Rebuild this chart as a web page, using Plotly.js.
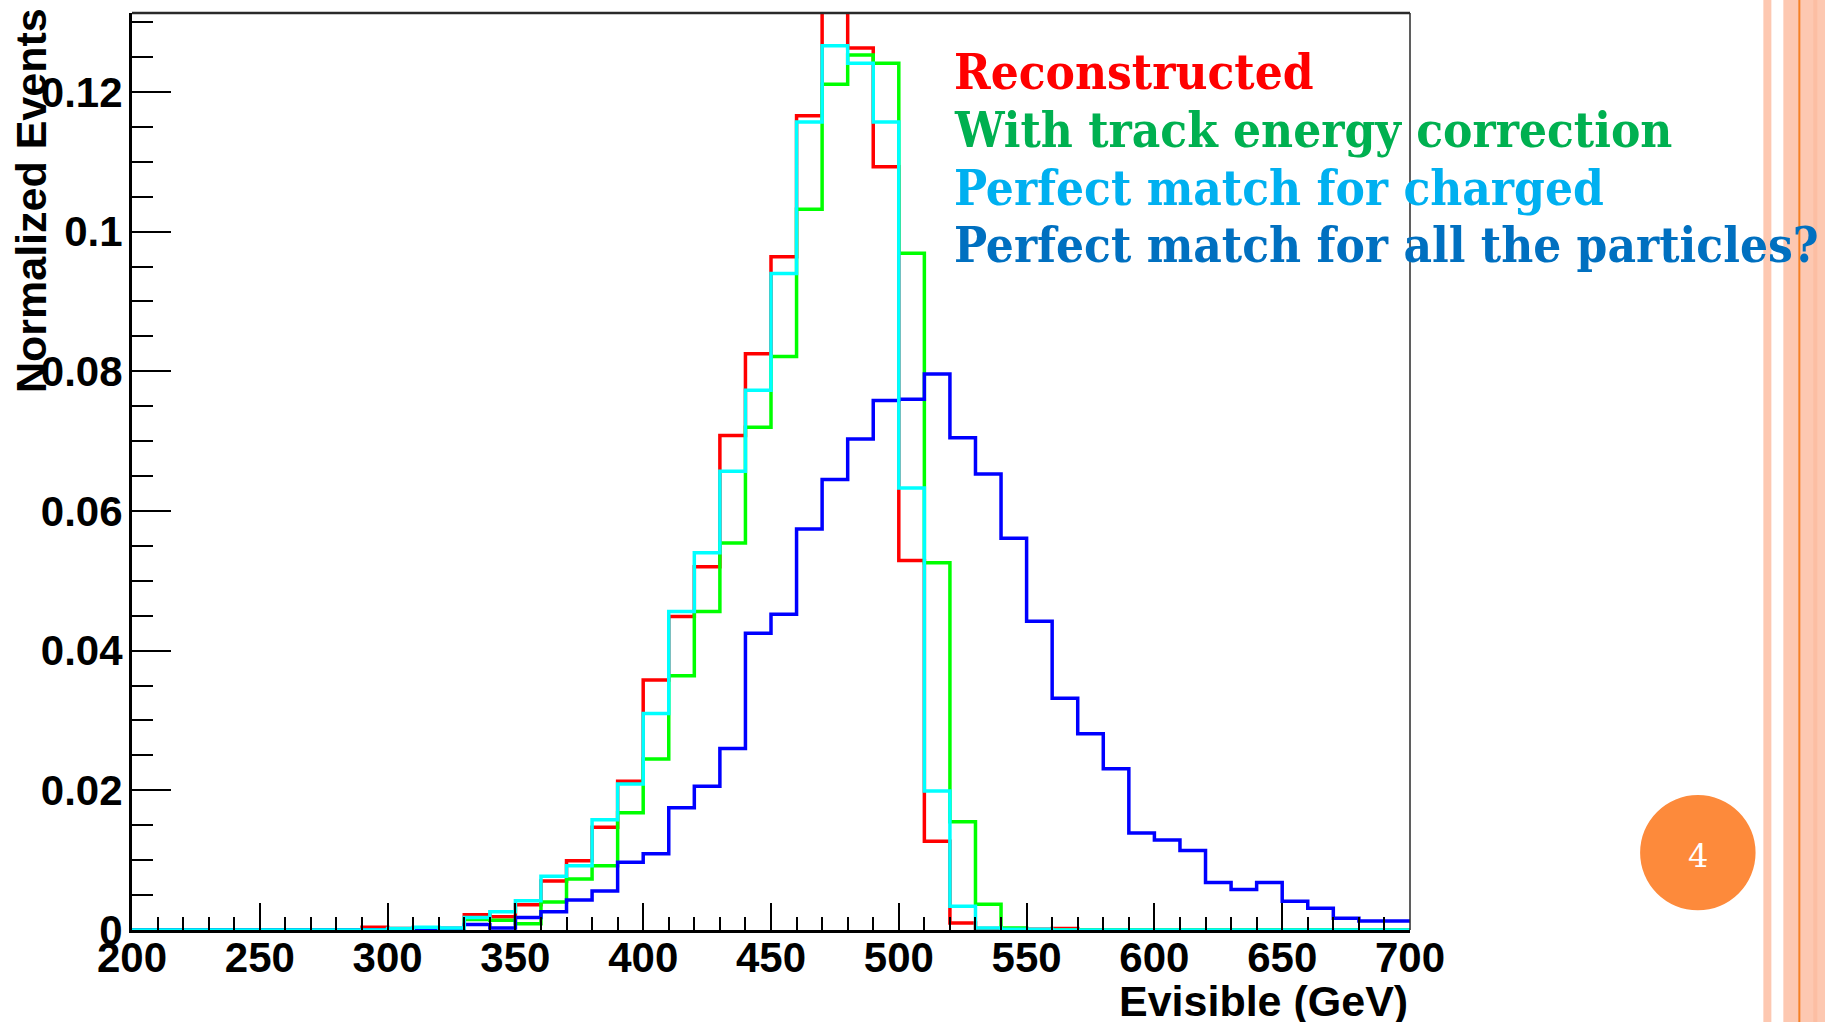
<!DOCTYPE html>
<html><head><meta charset="utf-8">
<script src="https://cdn.plot.ly/plotly-3.0.1.min.js"></script>
<style>html,body{margin:0;padding:0;background:#fff;overflow:hidden}#chart{width:1825px;height:1022px}</style>
</head><body><div id="chart"></div>
<script>
// ---- data: normalized events per 10 GeV bin, 200..700 GeV ----
const binStart = 200;
const binWidth = 10;
const reconstructed = [0,0,0,0,0,0,0,0,0,0.0004,
  0.0002,0.0002,0.0002,0.0022,0.0019,0.0036,0.0070,0.0099,0.0147,0.0213,
  0.0358,0.0449,0.0520,0.0708,0.0825,0.0964,0.1166,0.1360,0.1263,0.1093,
  0.0529,0.0127,0.0010,0.0002,0.0001,0.0001,0.0002,0,0,0,
  0,0,0,0,0,0,0,0,0,0];
const trackCorrected = [0,0,0,0,0,0,0,0,0,0,
  0,0.0001,0,0.0015,0.0014,0.0009,0.0040,0.0073,0.0092,0.0168,
  0.0245,0.0364,0.0456,0.0554,0.0720,0.0821,0.1032,0.1211,0.1253,0.1241,
  0.0969,0.0526,0.0155,0.0037,0.0003,0,0,0,0,0,
  0,0,0,0,0,0,0,0,0,0];
const perfectCharged = [0,0,0,0,0,0,0,0,0,0,
  0.0002,0.0004,0.0003,0.0018,0.0026,0.0042,0.0077,0.0092,0.0158,0.0209,
  0.0310,0.0456,0.0540,0.0657,0.0773,0.0940,0.1157,0.1266,0.1241,0.1157,
  0.0633,0.0199,0.0034,0.0003,0.0001,0.0001,0,0,0,0,
  0,0,0,0,0,0,0,0,0,0];
const perfectAll = [0,0,0,0,0,0,0,0,0,0,
  0,0.0001,0.0002,0.0008,0.0003,0.0018,0.0026,0.0043,0.0056,0.0097,
  0.0109,0.0175,0.0206,0.0260,0.0425,0.0452,0.0574,0.0645,0.0703,0.0758,
  0.0760,0.0796,0.0705,0.0653,0.0561,0.0442,0.0332,0.0281,0.0231,0.0139,
  0.0129,0.0114,0.0068,0.0058,0.0068,0.0041,0.0031,0.0017,0.0013,0.0013];
const seriesLabels = ['Reconstructed','With track energy correction','Perfect match for charged','Perfect match for all the particles?'];
const xTitle = 'Evisible (GeV)';
const yTitle = 'Normalized Events';
const slideNumber = '4';

// ---- geometry (pixels) ----
const W = 1825, H = 1022, L = 132, R = 1410.5, T = 13, B = 930;
const px = x => (x - L) / (R - L);
const py = y => (B - y) / (B - T);

function stepTrace(vals, color, name) {
  const xs = [], ys = [];
  for (let i = 0; i < vals.length; i++) { xs.push(binStart + i * binWidth); ys.push(vals[i]); }
  xs.push(binStart + vals.length * binWidth); ys.push(vals[vals.length - 1]);
  return {x: xs, y: ys, type: 'scatter', mode: 'lines', name: name,
          line: {shape: 'hv', color: color, width: 3.5}, showlegend: false, hoverinfo: 'skip'};
}

const traces = [
  stepTrace(reconstructed, '#FF0000', seriesLabels[0]),
  stepTrace(trackCorrected, '#00FF00', seriesLabels[1]),
  stepTrace(perfectAll, '#0000FF', seriesLabels[3]),
  stepTrace(perfectCharged, '#00FFFF', seriesLabels[2])
];

const tickFont = {family: 'Liberation Sans, Arial, sans-serif', size: 42, color: '#000', weight: 'bold'};
const legendColors = ['#FF0000', '#00B050', '#00B0F0', '#0070C0'];
const legendY = [72, 130, 188, 245];
const legendFont = 'DejaVu Serif Condensed, DejaVu Serif, serif';

const annotations = seriesLabels.map((t, i) => ({
  text: t, xref: 'paper', yref: 'paper', x: px(952), y: py(legendY[i]),
  xanchor: 'left', yanchor: 'middle', showarrow: false,
  font: {family: legendFont, size: 49, color: legendColors[i], weight: 'bold'}
}));
annotations.push({text: yTitle, textangle: -90, xref: 'paper', yref: 'paper', x: px(31), y: py(201),
  xanchor: 'center', yanchor: 'middle', showarrow: false,
  font: {family: 'Liberation Sans, Arial, sans-serif', size: 43, color: '#000', weight: 'bold'}});
annotations.push({text: xTitle, xref: 'paper', yref: 'paper', x: px(1410), y: py(1001),
  xanchor: 'right', yanchor: 'middle', showarrow: false,
  font: {family: 'Liberation Sans, Arial, sans-serif', size: 43, color: '#000', weight: 'bold'}});
annotations.push({text: slideNumber, xref: 'paper', yref: 'paper', x: px(1698.5), y: py(856),
  xanchor: 'center', yanchor: 'middle', showarrow: false,
  font: {family: 'DejaVu Serif, serif', size: 32, color: '#FFFFFF'}});

const shapes = [
  {type: 'rect', xref: 'paper', yref: 'paper', x0: px(1764), x1: px(1772), y0: py(H), y1: py(0), fillcolor: '#FDC8B1', line: {width: 0}, layer: 'below'},
  {type: 'rect', xref: 'paper', yref: 'paper', x0: px(1784), x1: px(1826), y0: py(H), y1: py(0), fillcolor: '#FDC8B1', line: {width: 0}, layer: 'below'},
  {type: 'rect', xref: 'paper', yref: 'paper', x0: px(1814), x1: px(1818), y0: py(H), y1: py(0), fillcolor: '#FCBEA3', line: {width: 0}, layer: 'below'},
  {type: 'line', xref: 'paper', yref: 'paper', x0: px(1800), x1: px(1800), y0: py(H), y1: py(0), line: {color: '#F58025', width: 2}},
  {type: 'circle', xref: 'paper', yref: 'paper', x0: px(1640.7), x1: px(1756.2), y0: py(910.3), y1: py(795), fillcolor: '#FD8A3B', line: {width: 0}},
  {type: 'line', xref: 'paper', yref: 'paper', x0: 0, x1: 1, y0: 1, y1: 1, line: {color: '#2a2a2a', width: 2.5}},
  {type: 'line', xref: 'paper', yref: 'paper', x0: 1, x1: 1, y0: 0, y1: 1, line: {color: '#2a2a2a', width: 1.5}}
];

const layout = {
  width: W, height: H,
  margin: {l: L, r: W - R, t: T, b: H - B, pad: 0},
  paper_bgcolor: '#FFFFFF', plot_bgcolor: '#FFFFFF',
  showlegend: false,
  xaxis: {
    range: [200, 700], dtick: 50, tick0: 200, showgrid: false, zeroline: false,
    showline: true, linecolor: '#000', linewidth: 3,
    ticks: 'inside', ticklen: 27, tickwidth: 2, tickcolor: '#000',
    minor: {dtick: 10, ticks: 'inside', ticklen: 13, tickwidth: 2, tickcolor: '#000', showgrid: false},
    tickfont: tickFont, ticklabelstandoff: -11
  },
  yaxis: {
    range: [0, 0.1313], dtick: 0.02, tick0: 0, showgrid: false, zeroline: false,
    showline: true, linecolor: '#000', linewidth: 3,
    ticks: 'inside', ticklen: 39, tickwidth: 2, tickcolor: '#000',
    minor: {dtick: 0.005, ticks: 'inside', ticklen: 21, tickwidth: 2, tickcolor: '#000', showgrid: false},
    tickfont: tickFont, ticklabelstandoff: -2
  },
  annotations: annotations,
  shapes: shapes
};

Plotly.newPlot('chart', traces, layout, {displayModeBar: false, staticPlot: true});
</script>
</body></html>
